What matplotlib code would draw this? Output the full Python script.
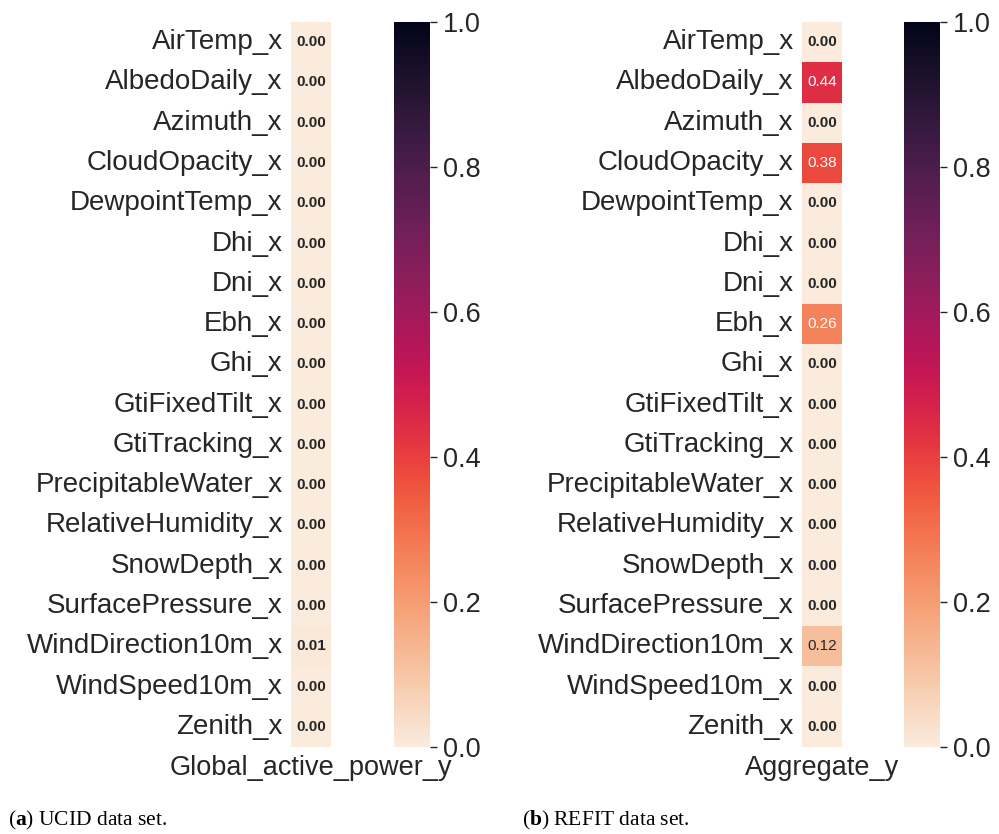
import numpy as np
import pandas as pd
import matplotlib
matplotlib.use("Agg")
import matplotlib.pyplot as plt
import seaborn as sns

features = ["AirTemp_x", "AlbedoDaily_x", "Azimuth_x", "CloudOpacity_x", "DewpointTemp_x",
            "Dhi_x", "Dni_x", "Ebh_x", "Ghi_x", "GtiFixedTilt_x", "GtiTracking_x",
            "PrecipitableWater_x", "RelativeHumidity_x", "SnowDepth_x", "SurfacePressure_x",
            "WindDirection10m_x", "WindSpeed10m_x", "Zenith_x"]
ucid_values = [0.00, 0.00, 0.00, 0.00, 0.00, 0.00, 0.00, 0.00, 0.00, 0.00, 0.00,
               0.00, 0.00, 0.00, 0.00, 0.01, 0.00, 0.00]
refit_values = [0.00, 0.44, 0.00, 0.38, 0.00, 0.00, 0.00, 0.26, 0.00, 0.00, 0.00,
                0.00, 0.00, 0.00, 0.00, 0.12, 0.00, 0.00]
ucid_target = "Global_active_power_y"
refit_target = "Aggregate_y"
cbar_ticks = [0.0, 0.2, 0.4, 0.6, 0.8, 1.0]
captions = [r"($\mathbf{a}$) UCID data set.", r"($\mathbf{b}$) REFIT data set."]

sns.set_theme(style="white")
plt.rcParams['font.family'] = ['Liberation Sans', 'DejaVu Sans']
plt.rcParams['mathtext.fontset'] = 'custom'
plt.rcParams['mathtext.rm'] = 'Liberation Serif'
plt.rcParams['mathtext.bf'] = 'Liberation Serif:bold'

W, H = 999, 834
fig = plt.figure(figsize=(W / 100, H / 100), dpi=100)

def fx(px):
    return px / W

def fy(top_px, bottom_px):
    return (H - bottom_px) / H, (bottom_px - top_px) / H

y0, hh = fy(22, 747)
panels = [
    (ucid_values, ucid_target, 291, 394, captions[0], 8),
    (refit_values, refit_target, 802, 904, captions[1], 522),
]
cmap = sns.color_palette("rocket_r", as_cmap=True)
text_color = "#262626"

for vals, target, hx, cx, cap, capx in panels:
    ax = fig.add_axes([fx(hx), y0, fx(40), hh])
    cax = fig.add_axes([fx(cx), y0, fx(36), hh])
    df = pd.DataFrame({target: vals}, index=features)
    sns.heatmap(df, ax=ax, cbar_ax=cax, cmap=cmap, vmin=0, vmax=1,
                annot=True, fmt=".2f", annot_kws={"size": 11})
    for t, v in zip(ax.texts, vals):
        if v < 0.05:
            t.set_fontweight("bold")
    ax.tick_params(axis="y", length=0, pad=6, labelsize=20, labelcolor=text_color)
    ax.tick_params(axis="x", length=0, pad=6, labelsize=19.5, labelcolor=text_color)
    plt.setp(ax.get_yticklabels(), rotation=0)
    plt.setp(ax.get_xticklabels(), rotation=0)
    cax.set_yticks(cbar_ticks)
    cax.set_yticklabels([f"{t:.1f}" for t in cbar_ticks])
    cax.tick_params(axis="y", length=5, width=1, color=text_color, labelsize=19.5,
                    labelcolor=text_color, pad=4, right=True)
    fig.text(fx(capx), 1 - 820 / H, cap, fontsize=15.5, va="center", ha="left",
             family="Liberation Serif", color="black")

fig.savefig("out.png", dpi=100)
